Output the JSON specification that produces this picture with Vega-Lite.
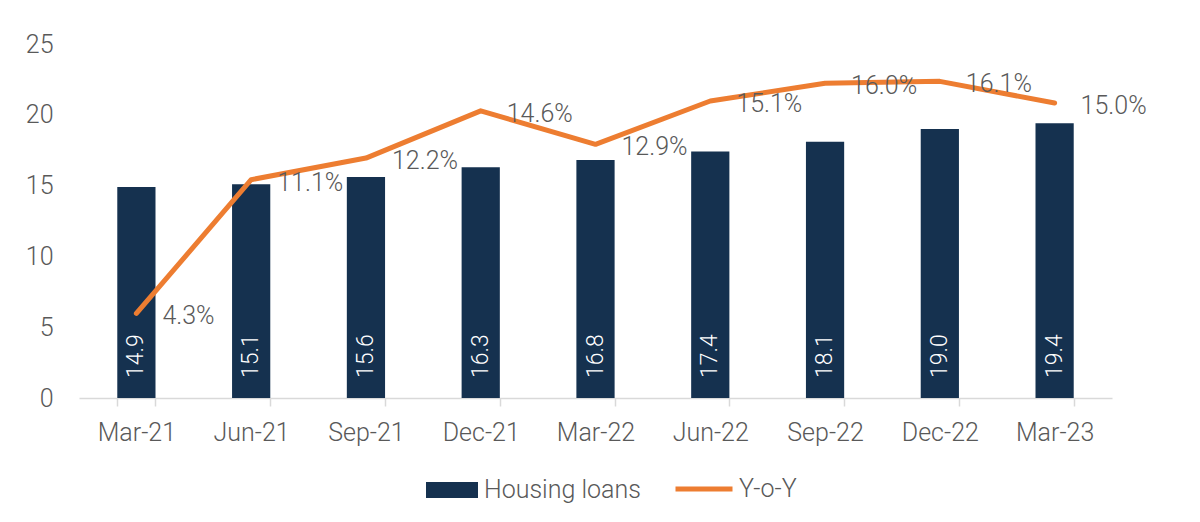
{
  "$schema": "https://vega.github.io/schema/vega-lite/v6.json",
  "width": 1033,
  "height": 354,
  "autosize": "none",
  "padding": {"left": 79, "top": 44, "right": 88, "bottom": 124},
  "background": "white",
  "config": {
    "view": {"stroke": null},
    "font": "Roboto",
    "axis": {"labelFont": "Roboto", "labelFontWeight": 300, "labelColor": "#595959", "labelFontSize": 25},
    "legend": {"labelFont": "Roboto", "labelFontWeight": 300, "labelColor": "#595959", "labelFontSize": 25}
  },
  "data": {
    "values": [
      {"q": "Mar-21", "loans": 14.9, "yoy": 0.043, "s1": "Housing loans", "s2": "Y-o-Y"},
      {"q": "Jun-21", "loans": 15.1, "yoy": 0.111, "s1": "Housing loans", "s2": "Y-o-Y"},
      {"q": "Sep-21", "loans": 15.6, "yoy": 0.122, "s1": "Housing loans", "s2": "Y-o-Y"},
      {"q": "Dec-21", "loans": 16.3, "yoy": 0.146, "s1": "Housing loans", "s2": "Y-o-Y"},
      {"q": "Mar-22", "loans": 16.8, "yoy": 0.129, "s1": "Housing loans", "s2": "Y-o-Y"},
      {"q": "Jun-22", "loans": 17.4, "yoy": 0.151, "s1": "Housing loans", "s2": "Y-o-Y"},
      {"q": "Sep-22", "loans": 18.1, "yoy": 0.160, "s1": "Housing loans", "s2": "Y-o-Y"},
      {"q": "Dec-22", "loans": 19.0, "yoy": 0.161, "s1": "Housing loans", "s2": "Y-o-Y"},
      {"q": "Mar-23", "loans": 19.4, "yoy": 0.150, "s1": "Housing loans", "s2": "Y-o-Y"}
    ]
  },
  "encoding": {
    "x": {
      "field": "q", "type": "nominal", "sort": null,
      "scale": {"paddingInner": 0.667, "paddingOuter": 0.3335},
      "axis": {"title": null, "labelAngle": 0, "domainColor": "#d9d9d9", "domainWidth": 1.5, "tickColor": "#d9d9d9", "tickWidth": 1.5, "tickSize": 8, "tickBand": "extent", "labelPadding": 14}
    }
  },
  "layer": [
    {
      "layer": [
        {
          "mark": {"type": "bar", "color": "#15314F"},
          "encoding": {
            "y": {"field": "loans", "type": "quantitative", "scale": {"domain": [0, 25]},
              "axis": {"title": null, "values": [0, 5, 10, 15, 20, 25], "domain": false, "ticks": false, "grid": false, "labelPadding": 26}},
            "fill": {"field": "s1", "type": "nominal", "scale": {"range": ["#15314F"]},
              "legend": {"title": null, "orient": "none", "legendX": 347, "legendY": 420, "symbolType": "M-1,-0.3077H1V0.3077H-1Z", "symbolSize": 2704, "symbolStrokeWidth": 0, "labelOffset": 6}}
          }
        },
        {
          "mark": {"type": "text", "angle": 270, "align": "left", "baseline": "middle", "dx": 20, "color": "white", "font": "Roboto", "fontWeight": 300, "fontSize": 23},
          "encoding": {
            "y": {"datum": 0, "type": "quantitative", "scale": {"domain": [0, 25]}},
            "text": {"field": "loans", "type": "quantitative", "format": ".1f"}
          }
        }
      ]
    },
    {
      "layer": [
        {
          "mark": {"type": "line", "strokeWidth": 5, "color": "#ED7D31", "strokeCap": "round", "strokeJoin": "round"},
          "encoding": {
            "y": {"field": "yoy", "type": "quantitative", "scale": {"domain": [0, 0.18]},
              "axis": {"title": null, "orient": "right", "values": [0, 0.02, 0.04, 0.06, 0.08, 0.1, 0.12, 0.14, 0.16, 0.18], "format": ".0%", "domain": false, "ticks": false, "grid": false, "labelPadding": 30}},
            "stroke": {"field": "s2", "type": "nominal", "scale": {"range": ["#ED7D31"]},
              "legend": {"title": null, "orient": "none", "legendX": 594, "legendY": 414, "symbolType": "stroke", "symbolSize": 3249, "symbolStrokeWidth": 5, "labelOffset": 4}}
          }
        },
        {
          "mark": {"type": "text", "align": "left", "baseline": "middle", "dx": 26, "dy": 3, "color": "#595959", "font": "Roboto", "fontWeight": 300, "fontSize": 25},
          "encoding": {
            "y": {"field": "yoy", "type": "quantitative", "scale": {"domain": [0, 0.18]}, "axis": null},
            "text": {"field": "yoy", "type": "quantitative", "format": ".1%"}
          }
        }
      ]
    }
  ],
  "resolve": {"scale": {"y": "independent", "fill": "independent", "stroke": "independent"}}
}
